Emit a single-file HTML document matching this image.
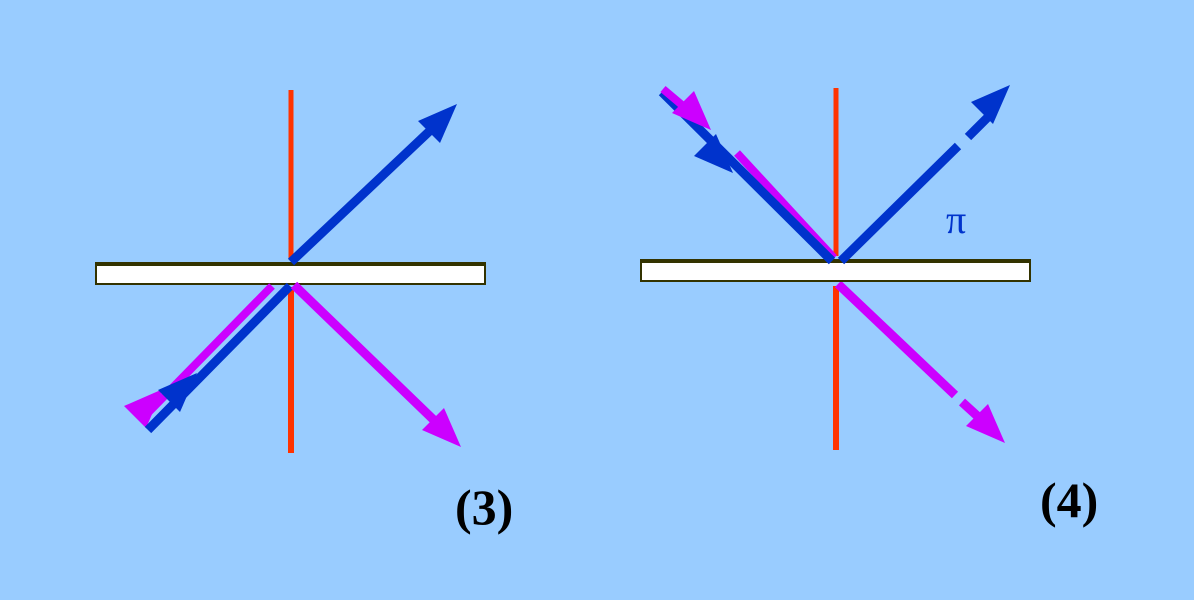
<!DOCTYPE html>
<html><head><meta charset="utf-8"><style>
html,body{margin:0;padding:0;background:#99CCFF;}
svg{display:block}
</style></head><body>
<svg width="1194" height="600" viewBox="0 0 1194 600" xmlns="http://www.w3.org/2000/svg">
<rect width="1194" height="600" fill="#99CCFF"/>
<!-- Panel 3 -->
<line x1="291" y1="90" x2="291" y2="258" stroke="#FF3300" stroke-width="5"/>
<line x1="291" y1="287" x2="291" y2="453" stroke="#FF3300" stroke-width="6"/>
<rect x="95" y="262" width="391" height="4" fill="#333300"/>
<rect x="96" y="265" width="389" height="19" fill="#fff" stroke="#333300" stroke-width="2"/>
<line x1="291" y1="262" x2="436" y2="125" stroke="#0033CC" stroke-width="9"/>
<polygon points="457,104 440,143 418,121" fill="#0033CC"/>
<line x1="140" y1="421" x2="272" y2="286" stroke="#CC00FF" stroke-width="8"/>
<polygon points="163,389 146,428 124,406" fill="#CC00FF"/>
<line x1="148" y1="430" x2="290" y2="286" stroke="#0033CC" stroke-width="9"/>
<polygon points="197,373 180,412 158,390" fill="#0033CC"/>
<line x1="294" y1="285" x2="440" y2="426" stroke="#CC00FF" stroke-width="9"/>
<polygon points="461,447 422,430 444,408" fill="#CC00FF"/>
<text x="455" y="524" font-family="Liberation Serif, serif" font-weight="bold" font-size="50" fill="#000">(3)</text>
<!-- Panel 4 -->
<line x1="836" y1="88" x2="836" y2="256" stroke="#FF3300" stroke-width="5"/>
<line x1="836" y1="286" x2="836" y2="450" stroke="#FF3300" stroke-width="6"/>
<line x1="838" y1="284" x2="955" y2="395" stroke="#CC00FF" stroke-width="9"/>
<line x1="962" y1="402" x2="985" y2="423" stroke="#CC00FF" stroke-width="9"/>
<polygon points="1005,443 966,426 988,404" fill="#CC00FF"/>
<rect x="640" y="259" width="391" height="4" fill="#333300"/>
<rect x="641" y="262" width="389" height="19" fill="#fff" stroke="#333300" stroke-width="2"/>
<line x1="737" y1="153" x2="834" y2="258" stroke="#CC00FF" stroke-width="8"/>
<line x1="662" y1="92" x2="832" y2="261" stroke="#0033CC" stroke-width="9"/>
<polygon points="733,173 694,156 716,134" fill="#0033CC"/>
<line x1="663" y1="89" x2="695" y2="116" stroke="#CC00FF" stroke-width="8"/>
<polygon points="711,130 672,113 694,91" fill="#CC00FF"/>
<line x1="841" y1="261" x2="958" y2="146" stroke="#0033CC" stroke-width="9"/>
<line x1="968" y1="137" x2="990" y2="115" stroke="#0033CC" stroke-width="9"/>
<polygon points="1010,85 993,124 971,102" fill="#0033CC"/>
<text x="946" y="233" font-family="Liberation Serif, serif" font-size="40" fill="#0033CC">π</text>
<text x="1040" y="517" font-family="Liberation Serif, serif" font-weight="bold" font-size="50" fill="#000">(4)</text>
</svg>
</body></html>
